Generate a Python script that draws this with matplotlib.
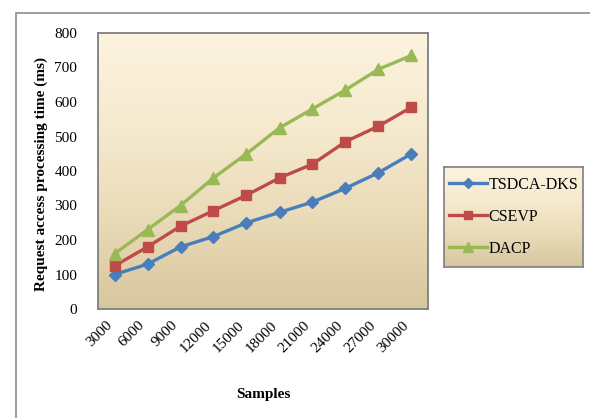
import numpy as np
import matplotlib
matplotlib.use("Agg")
import matplotlib.pyplot as plt
from matplotlib.colors import LinearSegmentedColormap
from matplotlib.patches import Rectangle

plt.rcParams['font.family'] = ['Liberation Serif', 'DejaVu Serif']

samples = ['3000', '6000', '9000', '12000', '15000', '18000',
           '21000', '24000', '27000', '30000']
tsdca_dks = [100, 130, 180, 210, 250, 280, 310, 350, 395, 450]
csevp = [125, 180, 240, 285, 330, 380, 420, 485, 530, 585]
dacp = [160, 230, 300, 380, 450, 525, 580, 635, 695, 735]

series = [
    ('TSDCA-DKS', tsdca_dks, '#4A7EBB', 'D', 6),
    ('CSEVP', csevp, '#BE4B48', 's', 7),
    ('DACP', dacp, '#98B954', '^', 8),
]

# cream-to-tan fill used for plot area and legend
grad = LinearSegmentedColormap.from_list(
    'parchment', ['#D7C79E', '#EADBB8', '#F6EACF', '#FCF3DF'])
ramp = np.linspace(0, 1, 256).reshape(-1, 1)

fig = plt.figure(figsize=(5.9, 4.18), dpi=100)
fig.patch.set_facecolor('white')

# outer chart border
fig.patches.append(Rectangle((16 / 590, -0.1), 1.2, 1.1 - 13 / 418,
                             transform=fig.transFigure, fill=False,
                             edgecolor='#8C8C8C', lw=1.2))

ax = fig.add_axes([98 / 590, 1 - 309 / 418, 330 / 590, 276 / 418])
ax.imshow(ramp, aspect='auto', cmap=grad, origin='lower',
          extent=[0, 1, 0, 1], transform=ax.transAxes, zorder=0)

x = np.arange(len(samples))
handles = []
for name, vals, col, mk, ms in series:
    h, = ax.plot(x, vals, color=col, lw=2.4, marker=mk, markersize=ms,
                 markerfacecolor=col, markeredgecolor=col, label=name,
                 zorder=3)
    handles.append(h)

ax.set_xlim(-0.5, len(samples) - 0.5)
ax.set_ylim(0, 800)
ax.set_yticks(np.arange(0, 801, 100))
ax.set_xticks(x)
ax.set_xticklabels(samples, rotation=45, ha='right', fontsize=11)
ax.tick_params(axis='both', length=0)
ax.tick_params(axis='y', pad=15, labelsize=11)
ax.tick_params(axis='x', pad=7)
for s in ax.spines.values():
    s.set_color('#7F7F7F')
    s.set_linewidth(1.3)

ax.set_ylabel('Request access processing time (ms)', fontsize=11,
              fontweight='bold')
ax.yaxis.set_label_coords(-0.152, 0.49)
ax.set_xlabel('Samples', fontsize=11, fontweight='bold')
ax.xaxis.set_label_coords(0.5, -0.285)

# legend box with the same gradient fill
lax = fig.add_axes([444 / 590, 1 - 267 / 418, 139 / 590, 100 / 418])
lax.imshow(ramp, aspect='auto', cmap=grad, origin='lower',
           extent=[0, 1, 0, 1], zorder=0)
lax.set_xticks([])
lax.set_yticks([])
for s in lax.spines.values():
    s.set_color('#7F7F7F')
    s.set_linewidth(1.2)
lax.legend(handles=handles, loc='center', frameon=False, fontsize=11.5,
           handlelength=2.4, handletextpad=0.1, labelspacing=1.0,
           borderaxespad=0, markerscale=0.85)

fig.savefig('out.png', dpi=100)
